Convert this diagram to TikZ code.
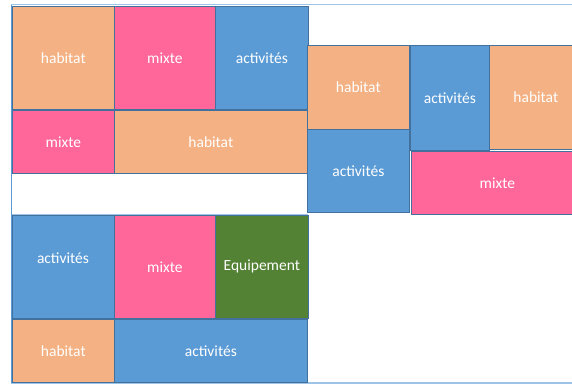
\documentclass[tikz,border=0pt]{standalone}
\usepackage{fontspec}
\setmainfont{Carlito}
\usepackage{tikz}
\usetikzlibrary{positioning}
\definecolor{habcol}{HTML}{F4B183}
\definecolor{mixcol}{HTML}{FF6699}
\definecolor{actcol}{HTML}{5B9BD5}
\definecolor{equcol}{HTML}{548235}
\definecolor{edgecol}{HTML}{41719C}
\definecolor{framecol}{HTML}{9DC3E6}
\tikzset{
zone/.style={draw=edgecol, line width=0.7pt, anchor=north west, inner sep=0pt,
  text=white, font=\fontsize{15.5}{18}\selectfont},
habitat/.style={zone, fill=habcol},
mixte/.style={zone, fill=mixcol},
activites/.style={zone, fill=actcol},
equip/.style={zone, fill=equcol}
}
% cell: style, name, x, y, width, height, text
\newcommand{\zn}[7]{\node[#1, minimum width=#5pt, minimum height=#6pt] (#2) at (#3,#4) {#7};}

\begin{document}
\begin{tikzpicture}[x=1pt,y=-1pt]
	\useasboundingbox (0,0) rectangle (572,384);
	\clip (0,0) rectangle (572,384);
	\draw[framecol, line width=1.5pt] (11.5,4.5) rectangle (600,383);
	\draw[actcol, line width=1.5pt] (11.5,4.5) -- (11.5,383);

	% block top left
	\zn{habitat}{ha1}{12}{6}{102}{103}{habitat}
	\zn{mixte}{mi1}{114}{6}{101}{103}{mixte}
	\zn{activites}{ac1}{215}{6}{93}{103}{activités}
	\zn{mixte}{mi2}{12}{110}{102}{63}{mixte}
	\zn{habitat}{ha2}{114}{110}{193}{63}{habitat}
	\draw[framecol, line width=1pt] (12,214) -- (308,214);

	% block right
	\zn{habitat}{ha3}{307}{45}{102}{84}{habitat}
	\zn{activites}{ac2}{307}{129}{102}{83}{activités}
	\zn{activites}{ac3}{410}{45}{79}{105}{activités}
	\zn{habitat}{ha4}{489}{45}{93}{104}{habitat}
	\zn{mixte}{mi3}{411}{151}{172}{63}{mixte}

	% block bottom left
	\zn{activites}{ac4}{12}{215}{102}{103}{}
	\node[text=white, font=\fontsize{15.5}{18}\selectfont] (ac4t) at (63,258) {activités};
	\zn{mixte}{mi4}{114}{215}{101}{103}{mixte}
	\zn{equip}{eq1}{215}{215}{93}{103}{Equipement}
	\zn{habitat}{ha5}{12}{319}{102}{63}{habitat}
	\zn{activites}{ac5}{114}{319}{193}{63}{activités}
\end{tikzpicture}
\end{document}
